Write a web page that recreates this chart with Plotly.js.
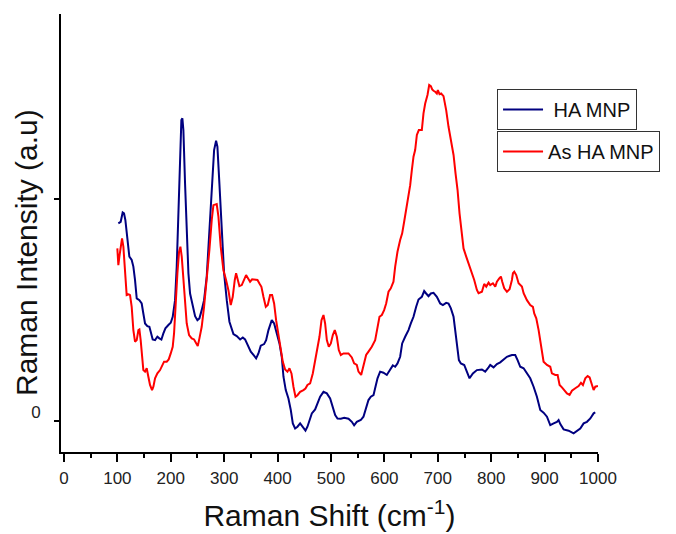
<!DOCTYPE html>
<html>
<head>
<meta charset="utf-8">
<script src="https://cdn.plot.ly/plotly-3.0.1.min.js"></script>
<style>
  html, body { margin: 0; padding: 0; background: #fff; }
  #chart { width: 676px; height: 534px; }
</style>
</head>
<body>
<div id="chart"></div>
<script>
// Raman shift (cm^-1) and intensity (arbitrary units)
const haX = [101.8,106.2,109.9,112.4,114.9,118.7,122.4,126.8,129.9,133.0,136.2,141.2,145.5,148.6,151.8,156.1,159.9,162.4,166.1,170.5,174.9,178.6,182.4,186.1,189.9,195.5,199.9,203.6,208.0,211.1,214.2,217.3,219.8,221.7,223.6,226.7,229.8,233.0,236.1,241.1,245.5,249.8,253.6,257.9,262.3,267.3,272.3,276.7,281.1,284.8,287.3,291.0,295.4,299.8,304.8,309.8,317.3,323.5,329.8,334.8,339.1,343.5,349.8,354.8,359.8,364.1,368.5,374.7,378.5,382.9,389.1,393.5,398.5,403.5,407.8,411.0,415.3,420.3,424.7,428.5,432.8,437.2,442.2,447.2,452.2,455.9,459.7,464.1,470.3,474.7,479.7,485.9,492.2,498.4,503.4,507.8,512.2,518.4,524.7,532.8,539.0,543.3,548.3,555.8,560.8,565.8,570.2,574.6,579.6,583.3,587.1,592.0,598.3,604.5,609.5,615.8,620.2,624.5,629.5,633.3,638.9,645.1,649.5,654.5,659.5,663.9,670.1,674.5,678.2,682.6,687.0,692.0,698.2,704.5,709.5,715.7,720.1,724.5,729.5,732.6,735.7,739.5,743.2,749.5,754.4,759.4,765.7,773.2,782.6,788.8,795.1,798.2,804.4,810.7,816.9,821.9,829.4,838.8,845.0,849.4,854.4,860.7,866.9,873.1,879.4,885.6,891.9,898.1,904.4,910.6,916.9,923.1,926.2,929.4,935.6,945.0,954.3,960.6,966.8,973.1,979.3,985.6,991.8,994.9];
const haY = [892,899,941,937,907,817,742,727,697,637,554,546,531,486,441,429,426,404,369,366,381,374,369,396,419,434,444,471,546,697,937,1222,1357,1365,1312,1072,847,667,576,516,474,456,464,501,546,652,847,1072,1222,1264,1237,1072,847,667,546,449,393,384,369,378,369,348,314,299,284,306,341,348,366,411,456,441,396,351,291,201,141,103,51,-9,-32,-24,-9,-24,-42,-24,6,36,54,81,111,133,126,103,66,28,13,12,16,12,-2,-18,-2,6,21,66,96,111,118,156,194,224,219,209,231,252,246,261,291,351,381,411,441,471,516,549,561,587,576,564,576,579,561,531,524,534,531,509,471,411,351,276,261,254,224,194,216,231,234,224,243,254,243,258,266,276,291,299,299,276,246,239,216,194,156,111,51,39,21,-17,-9,-2,6,-12,-36,-42,-54,-42,-32,-9,-2,13,36,40];

const asX = [99.9,101.8,103.7,106.8,108.7,111.2,114.3,117.4,121.2,123.7,126.8,129.9,133.0,136.2,139.3,141.2,143.6,146.1,148.6,151.8,154.9,158.0,161.1,164.9,167.4,170.5,174.9,179.9,184.9,187.4,192.4,196.1,199.9,203.6,206.1,208.6,212.4,215.5,218.0,220.5,223.6,226.7,229.8,234.2,239.2,243.6,247.3,250.5,253.6,257.9,262.3,267.3,272.3,276.7,279.8,286.0,289.2,293.5,298.5,303.5,307.9,312.3,316.0,319.8,322.3,324.8,328.5,332.9,337.3,341.0,344.8,348.5,352.3,357.3,362.3,366.0,369.7,373.5,377.9,381.6,386.0,389.7,393.5,397.2,401.6,406.0,409.7,414.1,418.5,422.2,426.0,429.7,433.5,437.2,442.2,448.4,452.2,455.9,460.9,465.9,470.3,474.7,478.4,482.2,485.9,489.0,492.2,495.9,499.7,503.4,507.1,510.9,514.6,518.4,523.4,529.6,532.7,539.0,543.3,548.3,551.5,556.5,560.8,565.8,570.2,576.4,582.7,587.1,590.8,595.2,599.5,603.3,607.7,612.0,617.0,620.2,624.5,629.5,633.3,637.0,640.8,645.1,648.3,651.4,654.5,657.6,660.8,664.5,670.1,673.2,676.4,680.7,683.9,687.0,689.5,692.0,695.1,698.2,700.1,703.2,706.3,710.7,715.7,720.1,724.5,729.5,733.2,737.0,740.7,744.4,748.2,753.2,757.6,760.7,768.2,773.2,776.3,782.6,786.9,790.7,795.1,798.2,803.2,807.6,810.7,815.1,818.2,820.7,824.4,829.4,834.4,838.8,840.7,843.2,846.9,851.3,857.5,860.7,866.9,873.1,878.1,880.6,884.4,888.8,893.1,898.1,904.4,910.6,913.7,920.0,924.4,928.1,932.5,936.9,941.9,946.8,951.2,957.5,963.7,968.1,971.8,976.2,980.6,984.3,986.8,989.3,991.8,994.9,999.9];
const asY = [779,704,742,802,824,787,697,569,572,569,516,411,359,366,411,414,366,291,231,224,239,201,164,141,156,194,216,231,254,269,269,279,306,336,396,516,667,764,787,742,637,516,441,389,374,369,354,339,374,426,516,637,772,907,974,979,922,787,682,637,591,524,561,637,667,644,609,614,637,659,644,629,640,637,637,621,606,561,516,524,569,569,531,456,396,321,269,234,224,239,216,156,111,118,133,141,148,164,171,216,276,321,381,456,479,441,366,336,351,389,411,381,321,299,306,306,306,288,261,254,224,209,254,299,314,336,366,426,471,479,501,531,584,599,629,697,764,817,847,899,952,1004,1064,1132,1192,1222,1290,1312,1312,1387,1432,1470,1515,1510,1495,1489,1485,1477,1492,1474,1477,1465,1402,1327,1260,1200,1117,1042,937,847,779,742,712,682,637,592,577,584,619,607,625,614,622,607,629,644,652,629,599,584,595,637,667,674,659,622,607,577,546,524,516,486,464,411,336,269,254,246,216,209,209,164,153,141,126,119,138,149,159,174,164,194,204,198,179,149,141,156,159];

const seriesNames = ['\u00a0HA MNP', 'As HA MNP'];
const yTickVals = [0, 1000];
const yTickText = ['0', ''];
const xTitle = 'Raman Shift (cm<sup>-1</sup>)';
const yTitle = 'Raman Intensity (a.u)';

const FONT = 'Arial, "Liberation Sans", sans-serif';

const traces = [
  {x: haX, y: haY, name: seriesNames[0], type: 'scatter', mode: 'lines',
   line: {color: '#000080', width: 2}, legend: 'legend'},
  {x: asX, y: asY, name: seriesNames[1], type: 'scatter', mode: 'lines',
   line: {color: '#ff0000', width: 2}, legend: 'legend2'}
];

const legendCommon = {
  xanchor: 'left', yanchor: 'top',
  bgcolor: 'rgba(255,255,255,0)',
  bordercolor: '#333', borderwidth: 1,
  itemwidth: 40,
  font: {family: FONT, size: 20, color: '#111'}
};

const layout = {
  width: 676, height: 534,
  margin: {l: 61, r: 78, t: 14, b: 82},
  paper_bgcolor: '#fff', plot_bgcolor: '#fff',
  showlegend: true,
  legend: Object.assign({x: 0.812, y: 0.8288}, legendCommon),
  legend2: Object.assign({x: 0.812, y: 0.7329}, legendCommon),
  xaxis: {
    range: [-5.6, 1000],
    tick0: 0, dtick: 100,
    ticks: 'outside', ticklen: 8, tickwidth: 1.5, tickcolor: '#000',
    minor: {dtick: 50, ticks: 'outside', ticklen: 4, tickwidth: 1.5, tickcolor: '#000'},
    showline: true, linewidth: 2, linecolor: '#000',
    showgrid: false, zeroline: false,
    ticklabelstandoff: 2,
    tickfont: {family: FONT, size: 17, color: '#222'},
    title: {text: xTitle, font: {family: FONT, size: 30, color: '#111'}, standoff: 18},
    automargin: false
  },
  yaxis: {
    range: [-138, 1835],
    tickmode: 'array', tickvals: yTickVals, ticktext: yTickText,
    ticks: 'outside', ticklen: 5, tickwidth: 1.5, tickcolor: '#000',
    showline: true, linewidth: 2, linecolor: '#000',
    showgrid: false, zeroline: false,
    ticklabelstandoff: 10,
    ticklabelshift: -9,
    tickfont: {family: FONT, size: 17, color: '#222'},
    automargin: false
  },
  annotations: [{
    text: yTitle, textangle: -90,
    xref: 'paper', yref: 'paper', x: -0.0652, y: 0.4566,
    xanchor: 'center', yanchor: 'middle', showarrow: false,
    font: {family: FONT, size: 30, color: '#111'}
  }]
};

Plotly.newPlot('chart', traces, layout, {displayModeBar: false, responsive: false});
</script>
</body>
</html>
